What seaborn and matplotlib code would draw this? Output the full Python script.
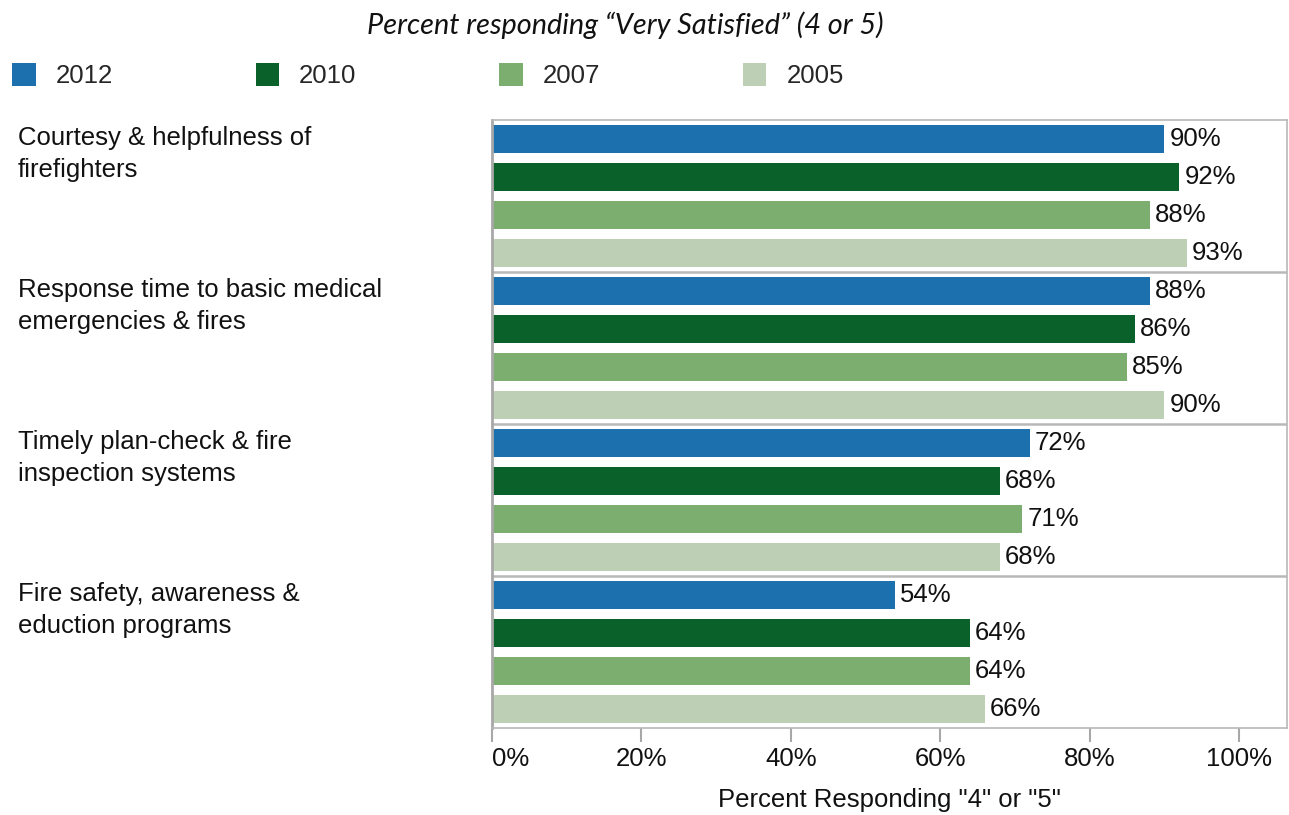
import matplotlib
matplotlib.use("Agg")
import matplotlib.pyplot as plt
import matplotlib.transforms as mtransforms
import pandas as pd
import seaborn as sns

# Survey items (left-hand labels) and survey years
categories = [
    "Courtesy & helpfulness of\nfirefighters",
    "Response time to basic medical\nemergencies & fires",
    "Timely plan-check & fire\ninspection systems",
    "Fire safety, awareness &\neduction programs",
]
years = ["2012", "2010", "2007", "2005"]

# Percent responding 4 or 5, per year
values_2012 = [90, 88, 72, 54]
values_2010 = [92, 86, 68, 64]
values_2007 = [88, 85, 71, 64]
values_2005 = [93, 90, 68, 66]

palette = ["#1d70ae", "#0a612a", "#7cae6f", "#bdcfb4"]
x_ticks = [0, 20, 40, 60, 80, 100]
x_tick_labels = ["0%", "20%", "40%", "60%", "80%", "100%"]

series = {"2012": values_2012, "2010": values_2010,
          "2007": values_2007, "2005": values_2005}
rows = []
for yr in years:
    for cat, v in zip(categories, series[yr]):
        rows.append({"category": cat, "year": yr, "value": v})
df = pd.DataFrame(rows)

sns.set_theme(style="white")
plt.rcParams["font.family"] = ["Liberation Sans", "DejaVu Sans"]

FS = 18.5
W, H = 1289, 815
fig = plt.figure(figsize=(W / 100, H / 100), dpi=100)
ax = fig.add_axes([492 / W, 1 - 728 / H, (1287 - 492) / W, (728 - 120) / H])

sns.barplot(data=df, y="category", x="value", hue="year",
            order=categories, hue_order=years, palette=palette,
            orient="h", width=1.0, gap=0.24, saturation=1,
            errorbar=None, linewidth=0, ax=ax)

handles, labels = ax.get_legend_handles_labels()
ax.get_legend().remove()

for cont in ax.containers:
    ax.bar_label(cont, fmt="{:.0f}%", padding=3.5, fontsize=FS, color="#111111")

ax.set_xlim(0, 106.4)
ax.set_ylim(len(categories) - 0.5, -0.5)
ax.set_yticks([])
ax.set_ylabel("")
ax.set_xticks(x_ticks)
ax.set_xticklabels(x_tick_labels, fontsize=FS, color="#111111")
ax.get_xticklabels()[0].set_horizontalalignment("left")
ax.tick_params(axis="x", bottom=True, length=10, width=1.5,
               color="#a8a8a8", pad=4, direction="out")
ax.set_xlabel('Percent Responding "4" or "5"', fontsize=FS,
              color="#111111", labelpad=12)

for s in ["top", "right", "bottom"]:
    ax.spines[s].set_color("#b8b8b8")
    ax.spines[s].set_linewidth(1.2)
ax.spines["left"].set_color("#a8a8a8")
ax.spines["left"].set_linewidth(2)

# group separators
for b in range(1, len(categories)):
    ax.axhline(b - 0.5, color="#b8b8b8", lw=1.8)

# item labels, aligned with the top of each group
trans = mtransforms.blended_transform_factory(fig.transFigure, ax.transData)
off = mtransforms.ScaledTranslation(0, -6 / 100, fig.dpi_scale_trans)
for i, cat in enumerate(categories):
    fig.text(18 / W, i - 0.5, cat, transform=trans + off, ha="left",
             va="top", fontsize=FS, linespacing=1.42, color="#111111")

for h in handles:
    h.set_linewidth(0)
fig.legend(handles, labels, loc="upper left",
           bbox_to_anchor=(12 / W, 1 - 63 / H), ncol=4, frameon=False,
           fontsize=FS, handlelength=0.92, handleheight=1.0,
           handletextpad=0.78, columnspacing=5.55, borderpad=0,
           borderaxespad=0)

fig.text(625 / W, 1 - 25 / H,
         "Percent responding \u201cVery Satisfied\u201d (4 or 5)",
         ha="center", va="center", fontsize=20.8, style="italic",
         family=["Lato", "DejaVu Sans"], color="#111111")

fig.savefig("out.png", dpi=100)
